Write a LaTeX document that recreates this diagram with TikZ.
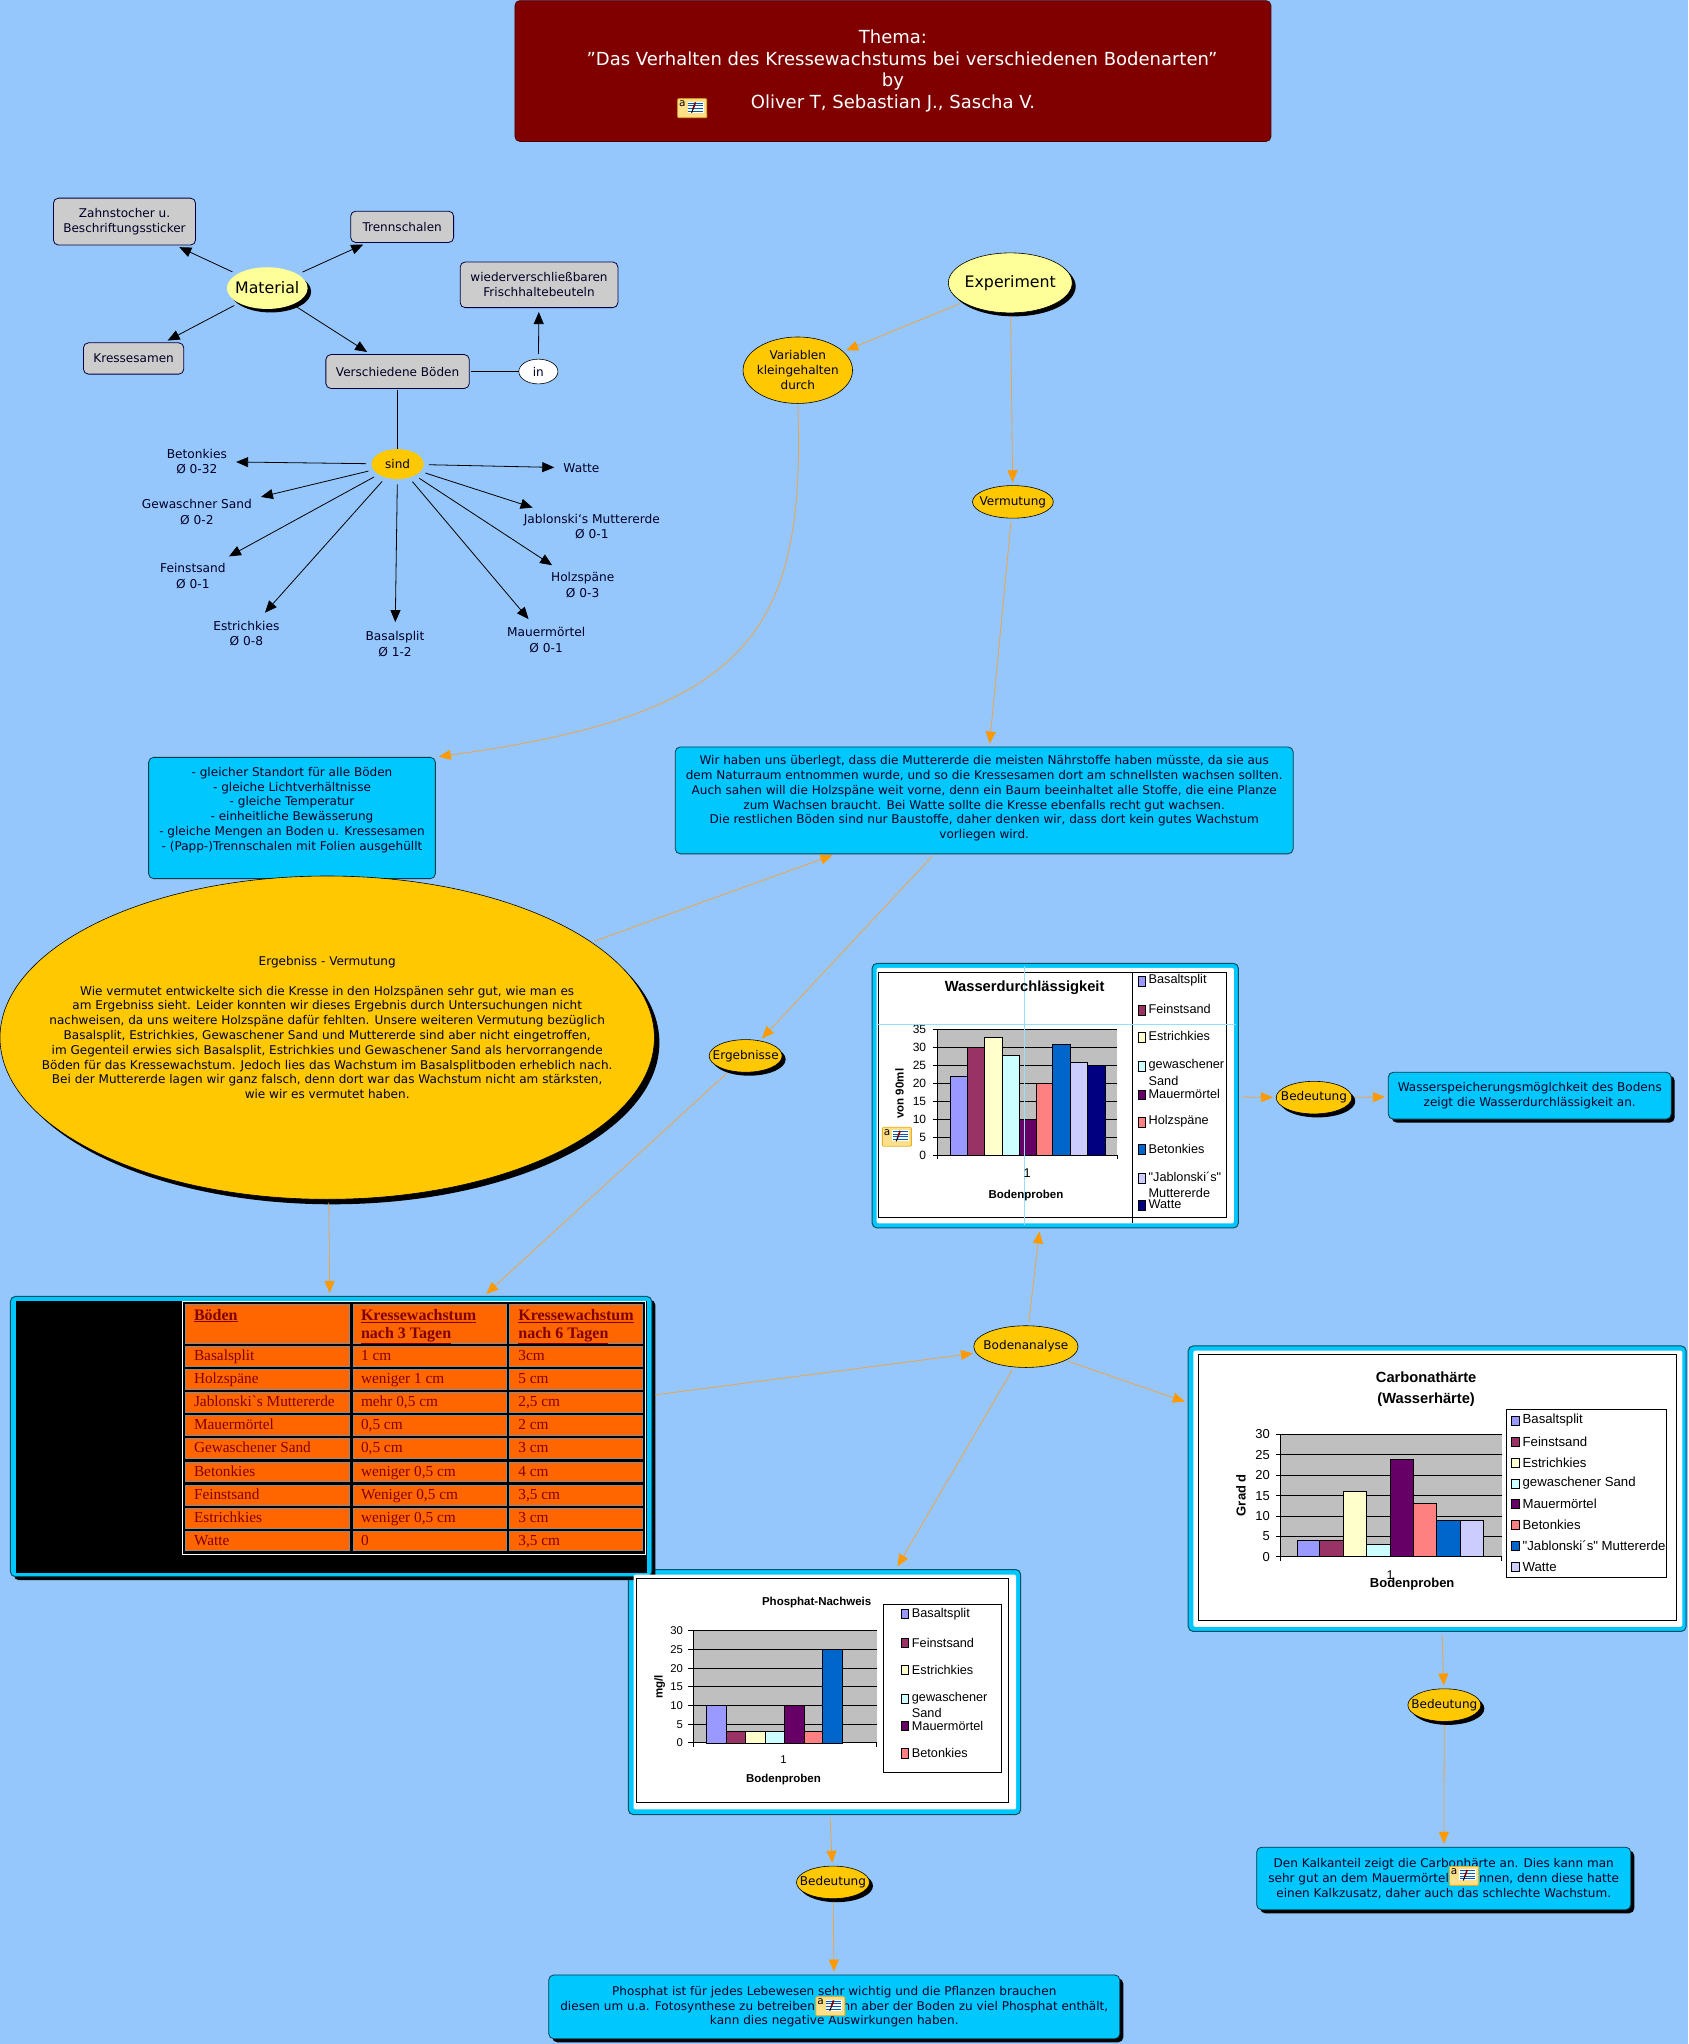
\documentclass[tikz,border=0pt]{standalone}
\usepackage{fontspec}
\setmainfont{DejaVu Sans}
\newfontfamily\arfont{Liberation Sans}
\newfontfamily\tifont{Liberation Serif}
\usetikzlibrary{shapes.geometric,arrows.meta,shadows}
\definecolor{bgblue}{HTML}{95C7FD}
\definecolor{dred}{HTML}{800000}
\definecolor{boxcy}{HTML}{00C8FF}
\definecolor{gold}{HTML}{FFC800}
\definecolor{lemon}{HTML}{FFFF99}
\definecolor{greybox}{HTML}{CCCCCC}
\definecolor{ora}{HTML}{FF9900}
\definecolor{oline}{HTML}{EFA445}
\definecolor{tcell}{HTML}{FF6600}
\definecolor{cA}{HTML}{9999FF}
\definecolor{cB}{HTML}{993366}
\definecolor{cC}{HTML}{FFFFCC}
\definecolor{cD}{HTML}{CCFFFF}
\definecolor{cE}{HTML}{660066}
\definecolor{cF}{HTML}{FF8080}
\definecolor{cG}{HTML}{0066CC}
\definecolor{cH}{HTML}{CCCCFF}
\definecolor{cI}{HTML}{000080}
\definecolor{notey}{HTML}{FFE08A}
\definecolor{noteo}{HTML}{E6B020}
\tikzset{
  shadA/.style={general shadow={fill=black,shadow xshift=3.5pt,shadow yshift=-3.5pt}},
  shadB/.style={general shadow={fill=black,shadow xshift=5pt,shadow yshift=-5pt}},
  oval/.style={ellipse,inner sep=0pt,draw=black,line width=.6pt},
  rbox/.style={rectangle,rounded corners=5pt,inner sep=0pt,line width=.8pt},
  graybox/.style={rbox,fill=greybox,draw=black!75!blue},
  cybox/.style={rbox,fill=boxcy,draw=black!70!boxcy},
  panelbox/.style={rbox,fill=boxcy,draw=black!60!boxcy,line width=1pt},
  whitearea/.style={fill=white,rounded corners=2pt},
  txt/.style={align=center,inner sep=0pt,font=\fontsize{12.05}{14.8}\selectfont,text=black!85!blue},
  big/.style={align=center,inner sep=0pt,font=\fontsize{14.5}{18}\selectfont},
  lbl/.style={align=center,inner sep=5pt,font=\fontsize{12.2}{15.6}\selectfont,text=black!85!blue},
  blk/.style={line width=.8pt,black,-{Triangle[length=12pt,width=10pt]},shorten >=4pt,shorten <=5pt},
  plain/.style={line width=.8pt,black,shorten <=1pt},
  conn/.style={line width=.8pt,oline,-{Triangle[length=12pt,width=10pt,ora]},shorten >=3pt,shorten <=3pt},
  artx/.style={inner sep=0pt,font=\arfont\fontsize{12.7}{14}\selectfont},
  artc/.style={inner sep=0pt,font=\arfont\fontsize{13.2}{14}\selectfont},
  arbold/.style={inner sep=0pt,align=center,font=\arfont\bfseries\fontsize{11.5}{14}\selectfont},
  cell/.style={fill=tcell,draw=black!45,line width=.6pt},
  ttx/.style={inner sep=0pt,anchor=base west,text=dred,font=\tifont\fontsize{15.3}{18}\selectfont},
  thd/.style={inner sep=0pt,anchor=north west,align=left,text=dred,font=\tifont\bfseries\fontsize{16}{18.3}\selectfont},
}
\newcommand{\ovalat}[8]{%
  \node[oval,#6,minimum width=#4*1.3035pt,minimum height=#5*1.3035pt] (#1) at (#2,#3) {};
  \node[#7] (#1t) at (#1) {#8};}
\newcommand{\boxat}[8]{%
  \node[#6,minimum width=#4*1.3035pt,minimum height=#5*1.3035pt] (#1) at (#2,#3) {};
  \node[#7] (#1t) at (#1) {#8};}
% note icon
\newcommand{\noteicon}[3]{%
  \begin{scope}[shift={(#2,#3)}]
    \fill[noteo] (8,7) -- (11.5,7) -- (11.5,4) -- cycle;
    \node[rectangle,inner sep=0pt,rounded corners=1pt,fill=notey,draw=noteo,line width=.8pt,minimum width=29pt,minimum height=19pt] (#1) at (0,0) {};
    \fill[white] (-3.5,-5) rectangle (9,3.5);
    \foreach \q in {-4,-2,0,2} \draw[blue!50!cyan!70!black,line width=.5pt] (-3,\q) -- (8.5,\q);
    \draw[dred,line width=1.6pt] (2.5,-4.5) -- (0.5,1);
    \draw[black,line width=1pt] (0.5,1) -- (-0.5,3.5);
    \node[inner sep=0pt,font=\fontsize{10.5}{10}\selectfont,text=black] (#1a) at (-7.5,-3.5) {a};
  \end{scope}}
\newcommand{\chartplot}[9]{%
  \fill[black!25] (#2,#4) rectangle (#3,#5);
  \pgfmathsetmacro{\kk}{(#5-#4)/#6}
  \foreach \v [count=\i] in {0,5,...,#6} {
    \pgfmathsetmacro{\yy}{#5-\v*\kk}
    \draw[black,line width=.8pt] ({#2-3.5},\yy) -- (#3,\yy);
    \node[inner sep=0pt,anchor=east,font=\arfont\fontsize{#8}{14}\selectfont] (#1y\i) at (#7,\yy) {\v};
  }
  \draw[black,line width=.8pt] (#2,#4) -- (#2,{#5+3});
  \draw[black,line width=.8pt] (#3,#5) -- (#3,{#5+3});
  \foreach \a/\b/\v/\c in {#9} {
    \pgfmathsetmacro{\yy}{#5-\v*\kk}
    \filldraw[fill=\c,draw=black,line width=.7pt] (\a,#5) rectangle (\b,\yy);
  }
}
\begin{document}
\begin{tikzpicture}[x=1.3035pt,y=-1.3035pt]
\useasboundingbox (0,0) rectangle (1295,1568);
\fill[bgblue] (0,0) rectangle (1295,1568);

% ---- title
\boxat{title}{685}{54.5}{580}{108}{rbox,fill=dred,draw=black!40!dred}{big,text=white,font=\fontsize{18}{21.7}\selectfont}{Thema:\\\hspace*{18pt}\symbol{34}Das Verhalten des Kressewachstums bei verschiedenen Bodenarten\symbol{34}\\by\\Oliver T, Sebastian J., Sascha V.}

% ---- material
\boxat{zahn}{95.5}{170}{109}{36}{graybox}{txt}{Zahnstocher u.\\Beschriftungssticker}
\boxat{trenn}{308.5}{174}{79}{24}{graybox}{txt}{Trennschalen}
\boxat{wieder}{413.5}{218.5}{121}{35}{graybox}{txt}{wiederverschließbaren\\Frischhaltebeuteln}
\boxat{kress}{102.5}{275}{77}{24}{graybox}{txt}{Kressesamen}
\boxat{versch}{305}{285}{110}{26}{graybox}{txt}{Verschiedene Böden}
\ovalat{material}{205}{221}{62}{32}{draw=none,fill=lemon,shadA}{big,font=\fontsize{15.8}{18}\selectfont}{Material}
\ovalat{inw}{413}{285}{30}{19}{fill=white}{txt}{in}
\ovalat{sind}{305}{356}{40}{23}{draw=none,fill=gold}{txt}{sind}

\node[lbl] (beton) at (151,354) {Betonkies\\Ø 0-32};
\node[lbl] (gew) at (151,393) {Gewaschner Sand\\Ø 0-2};
\node[lbl] (fein) at (148,442) {Feinstsand\\Ø 0-1};
\node[lbl] (estr) at (189,486) {Estrichkies\\Ø 0-8};
\node[lbl] (basal) at (303,494) {Basalsplit\\Ø 1-2};
\node[lbl] (mauer) at (419,491) {Mauermörtel\\Ø 0-1};
\node[lbl] (holz) at (447,449) {Holzspäne\\Ø 0-3};
\node[lbl] (jab) at (454,404) {Jablonski\symbol{96}s Muttererde\\Ø 0-1};
\node[lbl] (watte) at (446,359) {Watte};

\draw[blk] (material) -- (zahn);
\draw[blk] (material) -- (trenn);
\draw[blk] (material) -- (kress);
\draw[blk] (material) -- (versch);
\draw[plain] (versch) -- (inw);
\draw[blk] (inw) -- (wieder);
\draw[plain] (versch) -- (sind);
\foreach \n in {beton,gew,fein,estr,basal,mauer,holz,jab,watte} \draw[blk] (sind) -- (\n);

% ---- experiment
\ovalat{exper}{775}{217}{95}{46}{fill=lemon,shadA}{big,font=\fontsize{15.8}{18}\selectfont}{Experiment}
\ovalat{vari}{612}{284}{84}{51}{fill=gold}{txt}{Variablen\\kleingehalten\\durch}
\ovalat{vermu}{777}{385}{62}{25}{fill=gold}{txt}{Vermutung}
\boxat{gleich}{224}{627.5}{220}{93}{cybox}{txt,yshift=8pt}{- gleicher Standort für alle Böden\\- gleiche Lichtverhältnisse\\- gleiche Temperatur\\- einheitliche Bewässerung\\- gleiche Mengen an Boden u. Kressesamen\\- (Papp-)Trennschalen mit Folien ausgehüllt}
\boxat{wir}{755}{614}{474}{82}{cybox}{txt,yshift=2pt}{Wir haben uns überlegt, dass die Muttererde die meisten Nährstoffe haben müsste, da sie aus\\dem Naturraum entnommen wurde, und so die Kressesamen dort am schnellsten wachsen sollten.\\Auch sahen will die Holzspäne weit vorne, denn ein Baum beeinhaltet alle Stoffe, die eine Planze\\zum Wachsen braucht. Bei Watte sollte die Kresse ebenfalls recht gut wachsen.\\Die restlichen Böden sind nur Baustoffe, daher denken wir, dass dort kein gutes Wachstum\\vorliegen wird.}
\ovalat{ergell}{251}{796}{502}{248}{fill=gold,shadB}{txt,yshift=10pt}{Ergebniss - Vermutung\\[14.8pt]Wie vermutet entwickelte sich die Kresse in den Holzspänen sehr gut, wie man es\\am Ergebniss sieht. Leider konnten wir dieses Ergebnis durch Untersuchungen nicht\\nachweisen, da uns weitere Holzspäne dafür fehlten. Unsere weiteren Vermutung bezüglich\\Basalsplit, Estrichkies, Gewaschener Sand und Muttererde sind aber nicht eingetroffen,\\im Gegenteil erwies sich Basalsplit, Estrichkies und Gewaschener Sand als hervorrangende\\Böden für das Kressewachstum. Jedoch lies das Wachstum im Basalsplitboden erheblich nach.\\Bei der Muttererde lagen wir ganz falsch, denn dort war das Wachstum nicht am stärksten,\\wie wir es vermutet haben.}
\ovalat{ergeb}{572}{810}{56}{25}{fill=gold,shadA}{txt}{Ergebnisse}

% ---- panels
\boxat{wpan}{809.5}{840.5}{281}{203}{panelbox}{txt}{}
\boxat{cpan}{1102.5}{1142}{382}{219}{panelbox}{txt}{}
\boxat{ppan}{632.5}{1298}{301}{188}{panelbox}{txt}{}

% ---- table
\boxat{tabl}{254}{1102}{492}{215}{panelbox,shadA}{txt}{}
\fill[black] (12,998) rectangle (496,1206.5);
\draw[white,line width=.6pt] (140,998) rectangle (495,1192.4);
\foreach \xa/\xb in {142.4/268.2,271.2/388.6,391/492.4}
  \foreach \ya/\yb in {1000.4/1030.1,1032.4/1048,1050.2/1065.6,1067.9/1083.2,1085.8/1100.9,1103.4/1118.8,1121.4/1136.7,1139.5/1154.4,1157.2/1172,1174.8/1189.6}
    \path[cell] (\xa,\ya) rectangle (\xb,\yb);
\node[thd] (h1) at (148.7,1004) {\underline{Böden}};
\node[thd] (h2) at (276.8,1004) {\underline{Kressewachstum}\\\underline{nach 3 Tagen}};
\node[thd] (h3) at (397.5,1004) {\underline{Kressewachstum}\\\underline{nach 6 Tagen}};
\foreach \y/\a/\b/\c [count=\i] in {
  1040.2/Basalsplit/1 cm/3cm,
  1057.9/Holzspäne/weniger 1 cm/5 cm,
  1075.6/Jablonski\symbol{96}s Muttererde/mehr 0{,}5 cm/2{,}5 cm,
  1093.3/Mauermörtel/0{,}5 cm/2 cm,
  1111.1/Gewaschener Sand/0{,}5 cm/3 cm,
  1129/Betonkies/weniger 0{,}5 cm/4 cm,
  1147/Feinstsand/Weniger 0{,}5 cm/3{,}5 cm,
  1164.6/Estrichkies/weniger 0{,}5 cm/3 cm,
  1182.2/Watte/0/3{,}5 cm} {
  \node[ttx] (ta\i) at (148.7,{\y+3.5}) {\a};
  \node[ttx] (tb\i) at (276.8,{\y+3.5}) {\b};
  \node[ttx] (tc\i) at (397.5,{\y+3.5}) {\c};
}

% ---- Wasser chart
\fill[whitearea] (672.5,742.5) rectangle (946.5,938.5);
\draw[black,line width=.9pt] (674,746) rectangle (941,934);
\draw[black,line width=.9pt] (868.6,746) -- (868.6,938);
\chartplot{w}{719}{857}{790}{886}{35}{710.6}{12}{728.8/742.3/22/cA,742.3/755.4/30/cB,755.4/768.9/33/cC,768.9/782/28/cD,782/795.2/10/cE,795.2/807.5/20/cF,807.5/821.4/31/cG,821.4/834.1/26/cH,834.1/847.7/25/cI}
\draw[cyan!40!white,line width=.7pt] (785.7,741) -- (785.7,940);
\draw[cyan!40!white,line width=.7pt] (672,786) -- (948,786);
\node[arbold,font=\arfont\bfseries\fontsize{14.7}{16}\selectfont] (wtitle) at (786,758) {Wasserdurchlässigkeit};
\node[artx] (wone) at (788,900) {1};
\node[arbold] (wx) at (787,917) {Bodenproben};
\node[arbold,rotate=90] (wya) at (690,839) {von 90ml};
\foreach \y/\c/\t [count=\i] in {752/cA/Basaltsplit,774/cB/Feinstsand,795/cC/Estrichkies,817/cD/gewaschener,839/cE/Mauermörtel,860/cF/Holzspäne,881/cG/Betonkies,903/cH/"Jablonski´s",924/cI/Watte} {
  \filldraw[fill=\c,draw=black,line width=.6pt] (873.5,{\y-3}) rectangle (878.8,{\y+4.5});
  \node[artx,anchor=west] (wl\i) at (881,\y) {\t};
}
\node[artx,anchor=west] (wl10) at (881,829) {Sand};
\node[artx,anchor=west] (wl11) at (881,915) {Muttererde};

% ---- Phosphat chart
\fill[whitearea] (486,1208) rectangle (779.5,1388);
\draw[black,line width=.9pt] (488.5,1211) rectangle (773.5,1383);
\chartplot{p}{531.6}{672.5}{1251}{1337}{30}{524}{11.3}{542.1/557.5/10/cA,557.5/572/3/cB,572/587.4/3/cC,587.4/601.7/3/cD,601.7/617/10/cE,617/630.8/3/cF,630.8/646.2/25/cG}
\node[arbold] (ptitle) at (626.5,1229) {Phosphat-Nachweis};
\node[artx,font=\arfont\fontsize{11.3}{14}\selectfont] (pone) at (601,1349.6) {1};
\node[arbold] (px) at (601,1365) {Bodenproben};
\node[arbold,rotate=90] (pya) at (506,1294) {mg/l};
\draw[black,line width=.9pt] (677.7,1231) rectangle (768.5,1360);
\foreach \y/\c/\t [count=\i] in {1238/cA/Basaltsplit,1260/cB/Feinstsand,1281/cC/Estrichkies,1303/cD/gewaschener,1324/cE/Mauermörtel,1345/cF/Betonkies} {
  \filldraw[fill=\c,draw=black,line width=.6pt] (691.7,{\y-3.5}) rectangle (697,{\y+3.5});
  \node[artx,anchor=west] (pl\i) at (699.4,\y) {\t};
}
\node[artx,anchor=west] (pl7) at (699.4,1314) {Sand};

% ---- Carbonat chart
\fill[whitearea] (915.5,1036) rectangle (1290.5,1248);
\draw[black,line width=.9pt] (919.3,1039) rectangle (1285.7,1243);
\chartplot{c}{982.5}{1152}{1100.4}{1194.2}{30}{974.3}{13}{995.3/1012.1/4/cA,1012.1/1030.6/4/cB,1030.6/1048.5/16/cC,1048.5/1066.6/3/cD,1066.6/1084.5/24/cE,1084.5/1102.2/13/cF,1102.2/1120.3/9/cG,1120.3/1138.2/9/cH}
\node[arbold,font=\arfont\bfseries\fontsize{14.7}{20.2}\selectfont] (ctitle) at (1094,1065.7) {Carbonathärte\\(Wasserhärte)};
\node[artx] (cone) at (1066.4,1208.3) {1};
\node[arbold,font=\arfont\bfseries\fontsize{13}{14}\selectfont] (cx) at (1083.3,1215.3) {Bodenproben};
\node[arbold,font=\arfont\bfseries\fontsize{13}{14}\selectfont,rotate=90] (cya) at (952,1147) {Grad d};
\draw[black,line width=.9pt] (1155.9,1081.2) rectangle (1278.6,1210);
\foreach \y/\c/\t [count=\i] in {1089.6/cA/Basaltsplit,1105.7/cB/Feinstsand,1121.9/cC/Estrichkies,1138/cD/gewaschener Sand,1153.6/cE/Mauermörtel,1169.4/cF/Betonkies,1185.5/cG/"Jablonski´s" Muttererde,1201.9/cH/Watte} {
  \filldraw[fill=\c,draw=black,line width=.6pt] (1159.7,{\y-3.5}) rectangle (1165.1,{\y+3.5});
  \node[artc,anchor=west] (cl\i) at (1167.9,\y) {\t};
}

% ---- Bedeutung etc.
\ovalat{boden}{787}{1033}{80}{32}{fill=gold}{txt}{Bodenanalyse}
\ovalat{bedw}{1008}{842}{58}{25}{fill=gold,shadA}{txt}{Bedeutung}
\ovalat{bedc}{1108}{1308}{56}{25}{fill=gold,shadA}{txt}{Bedeutung}
\ovalat{bedp}{639}{1444}{56}{25}{fill=gold,shadA}{txt}{Bedeutung}
\boxat{speich}{1173.5}{840.5}{217}{36}{cybox,shadA}{txt}{Wasserspeicherungsmöglchkeit des Bodens\\zeigt die Wasserdurchlässigkeit an.}
\boxat{kalk}{1107.5}{1441}{287}{48}{cybox,shadA}{txt}{Den Kalkanteil zeigt die Carbonhärte an. Dies kann man\\sehr gut an dem Mauermörtel erkennen, denn diese hatte\\einen Kalkzusatz, daher auch das schlechte Wachstum.}
\boxat{phos}{640}{1539.5}{438}{49}{cybox,shadA}{txt}{Phosphat ist für jedes Lebewesen sehr wichtig und die Pflanzen brauchen\\diesen um u.a. Fotosynthese zu betreiben. Wenn aber der Boden zu viel Phosphat enthält,\\kann dies negative Auswirkungen haben.}

% ---- connectors
\draw[conn] (exper) -- (vari);
\draw[conn] (exper) -- (vermu);
\draw[conn] (vermu) -- (wir);
\draw[conn,shorten <=2pt] (vari.south) .. controls (618,485) and (575,548) .. (gleich.north east);
\draw[conn] (ergell) -- (wir);
\draw[conn] (wir) -- (ergeb);
\draw[conn] (ergeb) -- (tabl);
\draw[conn] (ergell) -- (tabl);
\draw[conn] (tabl) -- (boden);
\draw[conn] (boden) -- (wpan);
\draw[conn] (boden) -- (cpan);
\draw[conn] (boden) -- (ppan);
\draw[conn] (wpan) -- (bedw);
\draw[conn] (bedw) -- (speich);
\draw[conn] (cpan) -- (bedc);
\draw[conn] (bedc) -- (kalk);
\draw[conn] (ppan) -- (bedp);
\draw[conn] (bedp) -- (phos);

% ---- note icons
\noteicon{ic1}{531}{83}
\noteicon{ic2}{688}{872}
\noteicon{ic3}{637}{1539}
\noteicon{ic4}{1123}{1439}
\end{tikzpicture}
\end{document}
